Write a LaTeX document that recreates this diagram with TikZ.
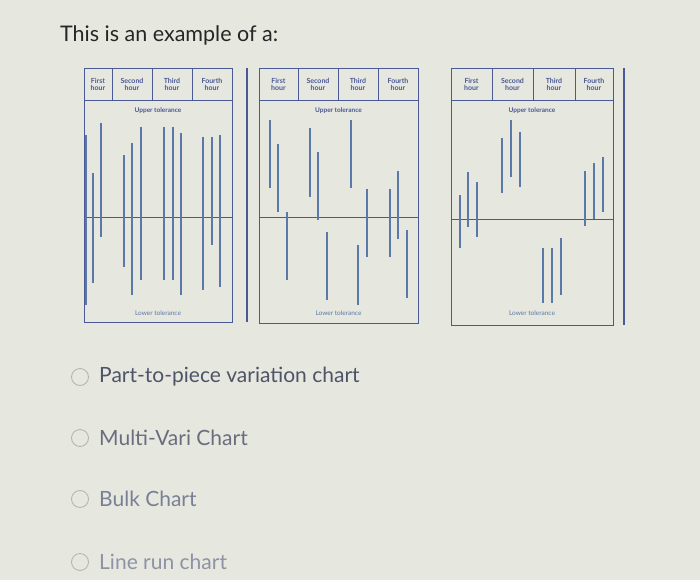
\documentclass[tikz,border=0pt]{standalone}
\usepackage{fontspec}
\setmainfont{Lato}
\definecolor{bg}{HTML}{E6E7DF}
\definecolor{cb}{HTML}{4A5896}
\definecolor{cl}{HTML}{5A78A8}
\definecolor{tx}{HTML}{4E5468}
\definecolor{tf}{HTML}{7A8094}
\tikzset{
  frame/.style={draw=cb,line width=0.9pt},
  bar/.style={draw=cl,line width=1.1pt},
  hdr/.style={text=cb,font=\fontsize{7}{7}\selectfont\bfseries,align=center,inner sep=0pt},
  tol/.style={text=cb,font=\fontsize{6.5}{6.5}\selectfont\bfseries,inner sep=0pt},
  opt/.style={font=\fontsize{21}{21}\selectfont,anchor=west,inner sep=0pt},
  radio/.style={draw=gray!60,line width=0.8pt,circle,minimum size=17pt,inner sep=0pt}
}
\newcommand{\mkchart}[8]{% #1 left #2 right #3 d1 #4 d2 #5 d3 #6 mid #7 name #8 bottom
  \draw[frame] (#1,68) rectangle (#2,#8);
  \draw[frame] (#1,100) -- (#2,100);
  \draw[frame] (#3,68) -- (#3,100) (#4,68) -- (#4,100) (#5,68) -- (#5,100);
  \draw[frame] (#1,#6) -- (#2,#6);
  \node[hdr] (#7h1) at ({(#1+#3)/2},84) {First\\hour};
  \node[hdr] (#7h2) at ({(#3+#4)/2},84) {Second\\hour};
  \node[hdr] (#7h3) at ({(#4+#5)/2},84) {Third\\hour};
  \node[hdr] (#7h4) at ({(#5+#2)/2},84) {Fourth\\hour};
  \node[tol] (#7u) at ({(#1+#2)/2},111) {Upper tolerance};
  \node[tol,text=cl,font=\fontsize{6.5}{6.5}\selectfont] (#7l) at ({(#1+#2)/2},313) {Lower tolerance};
}
\begin{document}
\begin{tikzpicture}[x=1pt,y=-1pt]
\fill[bg] (0,0) rectangle (700,580);
\useasboundingbox (0,0) rectangle (700,580);
\node[anchor=west,inner sep=0pt,text=black!85,font=\fontsize{21.5}{21.5}\selectfont] (title) at (60,35) {This is an example of a:};
% chart 1
\mkchart{84}{232}{112}{152}{192}{217}{a}{322}
\draw[frame,line width=1.2pt] (247,68) -- (247,322);
\foreach \x/\a/\b in {86/135/305,93/173/283,101/123/237,124/155/267,132/143/295,141/127/280,164/127/280,173/127/280,181/133/295,203/137/290,212/137/245,220/135/287}
  \draw[bar] (\x,\a) -- (\x,\b);
% chart 2
\mkchart{259}{418}{298}{338}{378}{217}{b}{323}
\foreach \x/\a/\b in {270/120/188,278/144/212,287/212/280,310/128/197,318/152/220,327/232/300,351/120/188,358/245/305,367/189/257,390/189/257,398/171/239,407/230/298}
  \draw[bar] (\x,\a) -- (\x,\b);
% chart 3
\mkchart{451}{613}{492}{533}{575}{219}{c}{325}
\draw[frame,line width=1.2pt] (624,68) -- (624,325);
\foreach \x/\a/\b in {460/195/248,468/172/227,477/182/237,502/138/193,511/120/177,520/132/187,543/248/303,552/248/303,561/238/295,585/171/226,594/163/219,603/157/212}
  \draw[bar] (\x,\a) -- (\x,\b);
% options
\node[radio] (r1) at (80,377) {};
\node[opt,text=tx] (o1) at (99,377) {Part-to-piece variation chart};
\node[radio] (r2) at (80,438) {};
\node[opt,text=tx!85] (o2) at (99,438) {Multi-Vari Chart};
\node[radio] (r3) at (80,499) {};
\node[opt,text=tf] (o3) at (99,499) {Bulk Chart};
\node[radio] (r4) at (80,562) {};
\node[opt,text=tf!85] (o4) at (99,562) {Line run chart};
\end{tikzpicture}
\end{document}
